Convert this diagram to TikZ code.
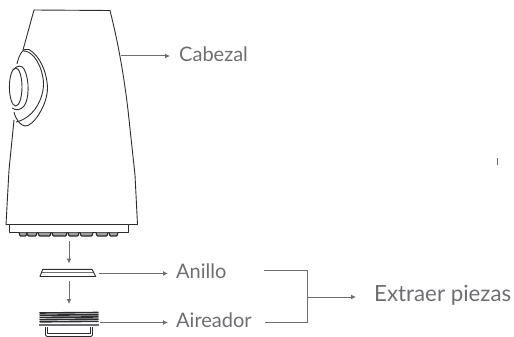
\documentclass[tikz,border=0pt]{standalone}
\usepackage{fontspec}
\setmainfont{Lato}
\definecolor{head_line}{RGB}{45, 45, 47}
\definecolor{label_gray}{RGB}{109, 110, 113}
\usetikzlibrary{arrows.meta, positioning, calc}

\begin{document}
\begin{tikzpicture}[
        x=1pt, y=-1pt,
        every node/.style={text=label_gray, inner sep=0pt, anchor=west},
        lab/.style={font=\fontsize{20}{22}\selectfont},
        labbig/.style={font=\fontsize{22.3}{26}\selectfont},
        part/.style={draw=head_line, line width=0.9pt, line join=round},
        lead/.style={draw=label_gray, line width=1pt},
        arr/.style={lead, -{Latex[length=5pt, width=5pt]}},
      ]
        \useasboundingbox (0,0) rectangle (514,337);

        % head
        \draw[part] (23,50) -- (34,10) -- (110,10.5) .. controls (120,50) and (125,85) .. (128,110)
          -- (135,175) -- (137.5,224.5) -- (128.5,224.5);
        \draw[part] (14,120) -- (9,170) -- (6,224.5) -- (9.5,224.5);
        \draw[part] (9.5,224.5) rectangle (128.5,232);
        \foreach \x/\w in {19/8, 27/10, 38/13, 52/15, 68/11, 80/13, 96/12, 109/9} {
          \draw[part, line width=1.2pt, fill=head_line!45, rounded corners=0.8pt] (\x,232.5) -- (\x+1,236) -- (\x+\w-1,236) -- (\x+\w,232.5);
        }
        % lens
        \draw[part] (17,64) .. controls (19,55) and (23,47) .. (29,49.5)
          .. controls (40,56) and (47,72) .. (47.5,88) .. controls (47.5,105) and (33,127) .. (25,126)
          .. controls (20,125) and (16,120) .. (14,112);
        \draw[part] (23,51) .. controls (30,50) and (40,60) .. (43,78) .. controls (46,95) and (35,118) .. (16,122);
        \draw[part] (13,70) .. controls (17,65) and (22,65) .. (24,69) .. controls (30,80) and (29,100) .. (24,106)
          .. controls (21,110) and (16,111) .. (12,108);
        \draw[part] (15.7,87) ellipse (6.3 and 19);

        % ring
        \draw[part] (42.7,269.3) -- (92,269.3) -- (95.7,276.5) -- (40,276.5) -- cycle;
        \draw[part, draw=label_gray] (42,272.5) -- (93,272.5);
        % aerator
        \foreach \y in {313, 315.2, 317.4, 319.6, 321.8} {
          \draw[part, line width=1.6pt] (39.5,\y) -- (98.5,\y-0.5);
        }
        \draw[part, draw=label_gray, line width=1.6pt] (39,325) -- (99,325);
        \draw[part, rounded corners=1.5pt] (45.5,327) -- (45.5,336.5) -- (92.5,336.5) -- (92.5,327);
        \draw[part, line width=0.5pt] (47.5,327) -- (47.5,333) -- (90.5,333) -- (90.5,327);

        % labels
        \node[lab] (cabezal) at (179,54) {Cabezal};
        \node[lab] (anillo) at (176,271) {Anillo};
        \node[lab] (aireador) at (176,320) {Aireador};
        \node[labbig] (extraer) at (374,295) {Extraer piezas};
        \node[draw=label_gray, line width=0.8pt, minimum height=7pt, minimum width=0pt] (mark) at (496.5,161.5) {};

        % leaders
        \coordinate (headside) at (120.5,56);
        \coordinate (headend) at (170,56);
        \coordinate (down1a) at (69,240.5);
        \coordinate (down1b) at (69,263.5);
        \coordinate (down2a) at (69,281);
        \coordinate (down2b) at (69,304);
        \coordinate (ringside) at (99,273.5);
        \coordinate (ringend) at (168,273.5);
        \coordinate (aerside) at (100,322.5);
        \coordinate (aerend) at (168,322.5);
        \coordinate (bracka) at (264,270.5);
        \coordinate (brackb) at (265,322);
        \coordinate (brackm) at (307.5,297);
        \coordinate (brackend) at (356,297);

        \draw[arr] (headside) -- (headend);
        \draw[arr] (down1a) -- (down1b);
        \draw[arr] (down2a) -- (down2b);
        \draw[arr] (ringside) -- (ringend);
        \draw[arr] (aerside) -- (aerend);
        \draw[lead] (bracka) -| (brackm) |- (brackb);
        \draw[arr] (brackm) -- (brackend);
      \end{tikzpicture}
\end{document}
